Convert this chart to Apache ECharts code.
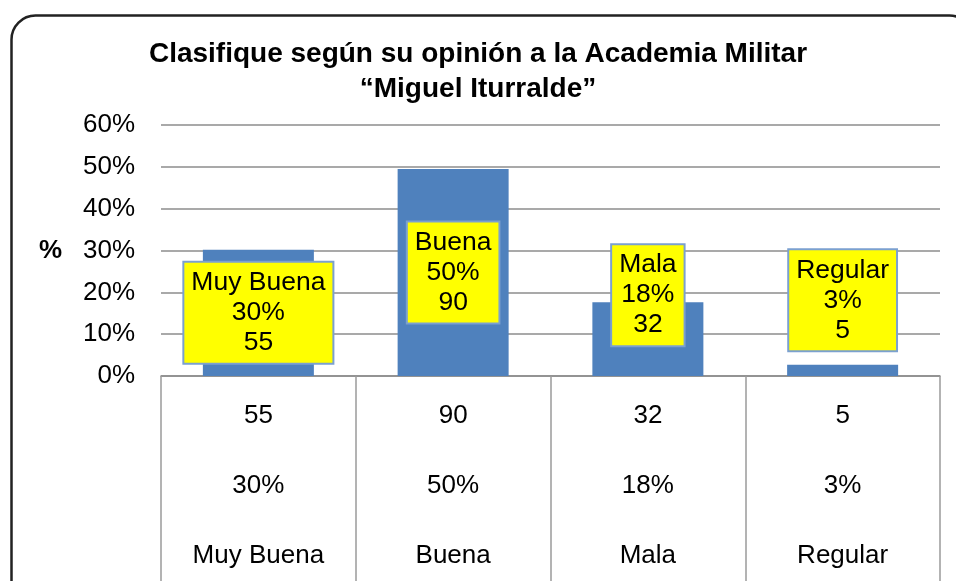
<!DOCTYPE html>
<html>
<head>
<meta charset="utf-8">
<script src="https://cdn.jsdelivr.net/npm/echarts@6/dist/echarts.min.js"></script>
<style>
  html, body { margin: 0; padding: 0; background: #fff; }
  #chart { width: 956px; height: 581px; }
</style>
</head>
<body>
<div id="chart"></div>
<script>
  // datos
  let categorias = ['Muy Buena', 'Buena', 'Mala', 'Regular'];
  let frecuencias = [55, 90, 32, 5];
  let porcentajes = [30.2, 49.5, 17.6, 2.7];
  let porcentajeTextos = ['30%', '50%', '18%', '3%'];

  let fuente = '"Liberation Sans", Arial, sans-serif';
  // desplazamiento vertical de las etiquetas amarillas
  let desplazamientos = [0, 0, -44, -70];

  let myChart = echarts.init(document.getElementById('chart'));

  let option = {
    animation: false,
    textStyle: { fontFamily: fuente },
    title: {
      text: 'Clasifique según su opinión a la Academia Militar\n“Miguel Iturralde”',
      left: 'center',
      top: 32,
      textStyle: {
        fontFamily: fuente,
        fontSize: 28,
        fontWeight: 'bold',
        color: '#000',
        lineHeight: 35
      }
    },
    graphic: [{
      type: 'rect',
      left: 9,
      top: 13,
      shape: { width: 962, height: 600, r: 24 },
      style: { fill: 'none', stroke: '#222', lineWidth: 2.5 },
      z: 100
    }],
    grid: { left: 161, right: 16, top: 125, bottom: 205 },
    xAxis: [{
      type: 'category',
      data: frecuencias,
      axisLine: { lineStyle: { color: '#8c8c8c', width: 1.5 } },
      axisTick: { show: true, interval: 0, length: 215, lineStyle: { color: '#9a9a9a', width: 1.5 } },
      axisLabel: { interval: 0, margin: 27, fontSize: 26, color: '#000' }
    }, {
      type: 'category',
      data: porcentajeTextos,
      position: 'bottom',
      offset: 70,
      axisLine: { show: false },
      axisTick: { show: false },
      axisLabel: { interval: 0, margin: 27, fontSize: 26, color: '#000' }
    }, {
      type: 'category',
      data: categorias,
      position: 'bottom',
      offset: 140,
      axisLine: { show: false },
      axisTick: { show: false },
      axisLabel: { interval: 0, margin: 27, fontSize: 26, color: '#000' }
    }],
    yAxis: {
      type: 'value',
      min: 0,
      max: 60,
      interval: 10,
      name: '%',
      nameLocation: 'middle',
      nameRotate: 0,
      nameGap: 99,
      nameTextStyle: { fontSize: 26, fontWeight: 'bold', color: '#000' },
      axisLine: { show: false },
      axisTick: { show: false },
      axisLabel: { formatter: '{value}%', fontSize: 26, color: '#000', margin: 26 },
      splitLine: { lineStyle: { color: '#8c8c8c', width: 1.5 } }
    },
    series: [{
      type: 'bar',
      xAxisIndex: 0,
      barWidth: '57%',
      itemStyle: { color: '#4F81BD' },
      data: porcentajes.map(function (v, i) {
        return {
          value: v,
          label: { offset: [0, desplazamientos[i]] }
        };
      }),
      label: {
        show: true,
        position: 'inside',
        formatter: function (p) {
          let i = p.dataIndex;
          return categorias[i] + '\n' + porcentajeTextos[i] + '\n' + frecuencias[i];
        },
        fontSize: 26.5,
        lineHeight: 30,
        color: '#000',
        backgroundColor: '#FFFF00',
        borderColor: '#7BA0D0',
        borderWidth: 2,
        padding: [5, 7, 5, 7],
        align: 'center'
      }
    }]
  };
  myChart.setOption(option);

  window.addEventListener('resize', function () {
    myChart.resize();
  });
</script>
</body>
</html>
